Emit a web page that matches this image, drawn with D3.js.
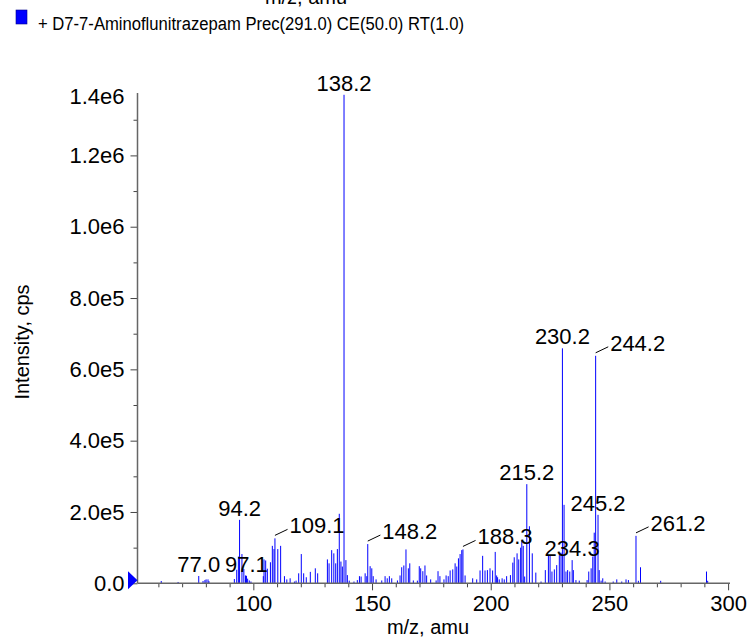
<!DOCTYPE html>
<html>
<head>
<meta charset="utf-8">
<script src="https://cdn.jsdelivr.net/npm/d3@7"></script>
<style>
  html, body { margin: 0; padding: 0; background: #fff; }
  svg { display: block; font-family: "Liberation Sans", Arial, Helvetica, sans-serif; }
</style>
</head>
<body>
<div id="chart"></div>
<script>
// spectrum peaks: m/z and intensity (cps)
const peakMz = [
  61.2, 68.3, 77.0, 78.8, 79.6, 80.1, 80.9, 81.3,
  92.0, 93.0, 93.7, 94.2, 95.2, 96.0, 96.7, 97.1, 97.6, 98.3, 99.0,
  104.2, 104.5, 105.2, 105.9, 107.2, 108.0, 108.7, 109.1, 110.3, 111.5,
  113.1, 114.1, 115.5, 117.3, 118.0, 119.1, 120.2, 121.2, 122.3, 124.0,
  126.1, 127.1, 131.2, 131.9, 133.0, 133.9, 134.7, 135.4, 136.2, 136.9,
  137.5, 138.2, 139.0, 139.6, 140.4, 142.4, 143.8, 144.7, 145.4, 147.1,
  147.8, 148.2, 149.2, 149.9, 150.5, 151.7, 154.1, 155.5, 156.4, 157.3,
  158.3, 160.7, 161.8, 162.5, 163.4, 164.3, 165.3, 165.9, 167.4, 169.1,
  169.9, 170.5, 171.4, 172.3, 173.0, 174.7, 177.0, 177.8, 178.6, 180.3,
  181.2, 182.1, 182.9, 184.0, 185.0, 185.7, 186.4, 187.1, 187.8, 188.3,
  189.2, 192.4, 194.1, 195.5, 196.6, 197.6, 198.6, 199.7, 200.8, 201.9,
  202.5, 202.9, 203.6, 204.8, 205.7, 206.7, 208.3, 209.3, 209.9, 211.1,
  211.8, 212.6, 213.1, 213.7, 214.3, 215.2, 216.3, 217.5, 219.0, 221.2,
  223.0, 224.3, 225.0, 225.8, 226.8, 227.8, 228.9, 229.6, 230.2, 230.9,
  231.7, 232.4, 233.3, 234.3, 234.8, 235.9, 237.3, 240.6, 241.3, 242.3,
  243.0, 243.6, 244.2, 245.2, 245.7, 246.5, 247.2, 248.2, 251.6, 253.1,
  255.2, 257.0, 258.0, 261.2, 262.2, 263.1, 271.6, 290.9, 291.4
];
const peakInt = [
  6.5e3, 3.7e3, 2.05e4, 6.5e3, 9e3, 1.1e4, 1.1e4, 6e3,
  1.2e4, 3.8e4, 7.5e4, 1.78e5, 8.2e4, 4.0e4, 2.2e4, 2.1e4, 1.3e4, 8e3, 5e3,
  2.0e4, 6.7e4, 6.4e4, 4.1e4, 5.9e4, 1.05e5, 9.6e4, 1.26e5, 9.6e4, 1.05e5,
  2.0e4, 1.1e4, 1.4e4, 5e3, 7.5e3, 2.8e4, 8.2e4, 2.8e4, 1.7e4, 3.2e4,
  4.2e4, 2.8e4, 6.7e4, 5.6e4, 9.3e4, 8.4e4, 5.6e4, 9.6e4, 1.95e5, 6.1e4,
  4.7e4, 1.37e6, 6.5e4, 2.3e4, 7.5e3, 5e3, 9e3, 2.0e4, 1.9e4, 2.8e4,
  2.0e4, 1.1e5, 4.8e4, 4.2e4, 2.0e4, 1.1e4, 8e3, 2.0e4, 1.4e4, 2.0e4,
  1.4e4, 8e3, 2.2e4, 4.5e4, 5.0e4, 9.5e4, 4.2e4, 5.6e4, 8e3, 7.5e3,
  4.8e4, 4.2e4, 3.4e4, 5.0e4, 2.2e4, 1.1e4, 8e3, 3.4e4, 2.0e4, 1.1e4,
  2.2e4, 2.0e4, 3.6e4, 3.9e4, 5.6e4, 4.7e4, 7.0e4, 8.2e4, 9.3e4, 9.5e4,
  2.2e4, 1.4e4, 1.1e4, 3.6e4, 7.7e4, 3.6e4, 3.7e4, 4.2e4, 3.6e4, 8.8e4,
  2.2e4, 1.7e4, 1.1e4, 1.4e4, 1.1e4, 2.0e4, 2.3e4, 5.8e4, 7.3e4, 8.4e4,
  6.7e4, 1.0e5, 1.2e5, 1.05e5, 1.9e4, 2.78e5, 1.6e5, 8.4e4, 3.0e4, 5e3,
  3.7e4, 7.7e4, 7.7e4, 3.3e4, 3.9e4, 5.1e4, 7.9e4, 8.6e4, 6.59e5, 2.2e5,
  3.3e4, 3.7e4, 3.3e4, 6.5e4, 3.7e4, 9e3, 7.5e3, 9e3, 3.3e4, 4.2e4,
  7.5e4, 1.42e5, 6.38e5, 1.92e5, 3.7e4, 7.5e3, 1.4e4, 5e3, 5e3, 1.1e4,
  5e3, 1.1e4, 9e3, 1.33e5, 7e3, 4.5e4, 7e3, 3.3e4, 7e3
];

// annotated peaks and whether the label hangs off a short leader line
const labelMz = [77.0, 94.2, 97.1, 109.1, 138.2, 148.2, 188.3, 215.2, 230.2, 234.3, 244.2, 245.2, 261.2];
const labelLeader = [false, false, false, true, false, true, true, false, false, false, true, false, true];

// axes
const xDomain = [51.2, 300.8];
const yDomain = [0, 1.375e6];
const xTicks = [100, 150, 200, 250, 300];
const yTicks = [0, 2e5, 4e5, 6e5, 8e5, 1e6, 1.2e6];
const yTopLabel = '1.4e6';

const legendText = '+ D7-7-Aminoflunitrazepam Prec(291.0) CE(50.0) RT(1.0)';
const xTitle = 'm/z, amu';
const yTitle = 'Intensity, cps';

(function(){
  const W = 749, H = 642;
  const plot = { left: 137.5, right: 730, top: 93, bottom: 583.3 };
  const axisColor = '#666';
  const blue = '#0000ff';

  const svg = d3.select('#chart').append('svg').attr('width', W).attr('height', H);
  svg.append('rect').attr('width', W).attr('height', H).attr('fill', '#fff');

  const x = d3.scaleLinear().domain(xDomain).range([plot.left, plot.right]);
  const y = d3.scaleLinear().domain(yDomain).range([plot.bottom, plot.top]);

  // format like 2.0e5
  function sci(v){
    if(v === 0) return '0.0';
    const e = Math.floor(Math.log10(v));
    return (v / Math.pow(10, e)).toFixed(1) + 'e' + e;
  }

  // x title of the pane above, mostly cut off by the top edge
  svg.append('text')
    .attr('x', 306).attr('y', 4)
    .attr('text-anchor', 'middle')
    .style('font-size', '20px')
    .text(xTitle);

  // legend
  svg.append('rect').attr('x', 16).attr('y', 10).attr('width', 11).attr('height', 14)
    .attr('fill', blue).attr('stroke', '#00008a').attr('stroke-width', 0.6);
  svg.append('text')
    .attr('x', 38).attr('y', 29.5)
    .attr('textLength', 426).attr('lengthAdjust', 'spacingAndGlyphs')
    .style('font-size', '18px')
    .text(legendText);

  // peaks as sticks
  const peaks = peakMz.map((m, i) => ({ mz: m, v: peakInt[i] }));
  svg.append('g').selectAll('line').data(peaks).enter().append('line')
    .attr('x1', d => x(d.mz)).attr('x2', d => x(d.mz))
    .attr('y1', y(0)).attr('y2', d => y(d.v))
    .attr('stroke', blue).attr('stroke-width', 1);

  // y axis
  const yAxis = d3.axisLeft(y).tickValues(yTicks).tickFormat(sci).tickSize(7).tickPadding(6);
  const gy = svg.append('g').attr('transform', `translate(${plot.left},0)`).call(yAxis);
  const yMinor = d3.axisLeft(y).tickValues(d3.range(1e5, 1.375e6, 2e5)).tickFormat('').tickSize(4);
  const gym = svg.append('g').attr('transform', `translate(${plot.left},0)`).call(yMinor);
  [gy, gym].forEach(g => {
    g.select('.domain').remove();
    g.selectAll('line').attr('stroke', '#444');
    g.selectAll('text').style('font-size', '22px').attr('fill', '#000').style('font-family', 'inherit');
  });
  svg.append('text')
    .attr('x', plot.left - 13).attr('y', plot.top + 3).attr('dy', '0.35em')
    .attr('text-anchor', 'end').style('font-size', '22px')
    .text(yTopLabel);
  svg.append('line')
    .attr('x1', plot.left).attr('x2', plot.left).attr('y1', plot.top).attr('y2', plot.bottom)
    .attr('stroke', axisColor).attr('stroke-width', 1.5);

  // x axis
  const xAxis = d3.axisBottom(x).tickValues(xTicks).tickFormat(d3.format('d')).tickSize(7).tickPadding(5);
  const gx = svg.append('g').attr('transform', `translate(0,${plot.bottom})`).call(xAxis);
  const xMinor = d3.axisBottom(x).tickValues(d3.range(60, 300, 10).filter(v => v % 50 !== 0)).tickFormat('').tickSize(4);
  const gxm = svg.append('g').attr('transform', `translate(0,${plot.bottom})`).call(xMinor);
  [gx, gxm].forEach(g => {
    g.select('.domain').remove();
    g.selectAll('line').attr('stroke', '#444');
    g.selectAll('text').style('font-size', '22px').attr('fill', '#000').style('font-family', 'inherit');
  });
  svg.append('line')
    .attr('x1', plot.left).attr('x2', plot.right).attr('y1', plot.bottom).attr('y2', plot.bottom)
    .attr('stroke', axisColor).attr('stroke-width', 1.5);

  // origin marker
  svg.append('path')
    .attr('d', `M${plot.left - 9.5},${plot.bottom - 12} L${plot.left},${plot.bottom - 3} L${plot.left - 9.5},${plot.bottom + 6} Z`)
    .attr('fill', blue);

  // axis titles
  svg.append('text')
    .attr('x', 428).attr('y', 634)
    .attr('text-anchor', 'middle').style('font-size', '20px')
    .text(xTitle);
  svg.append('text')
    .attr('transform', `translate(29,342) rotate(-90)`)
    .attr('text-anchor', 'middle').style('font-size', '20px')
    .text(yTitle);

  // peak annotations
  const labG = svg.append('g').style('font-size', '22px');
  labelMz.forEach((m, i) => {
    const p = peaks.find(d => d.mz === m);
    const px = x(p.mz), top = y(p.v);
    const txt = m.toFixed(1);
    if(labelLeader[i]){
      labG.append('line')
        .attr('x1', px).attr('y1', top - 3)
        .attr('x2', px + 12.6).attr('y2', top - 9)
        .attr('stroke', '#000').attr('stroke-width', 1);
      labG.append('text')
        .attr('x', px + 14.5).attr('y', top - 13).attr('dy', '0.35em')
        .text(txt);
    } else {
      labG.append('text')
        .attr('x', px).attr('y', top - 4)
        .attr('text-anchor', 'middle')
        .text(txt);
    }
  });
})();
</script>
</body>
</html>
